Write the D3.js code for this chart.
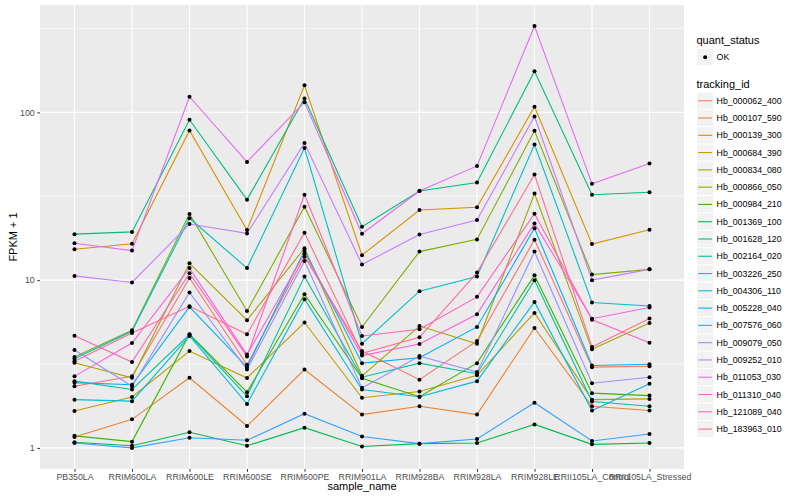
<!DOCTYPE html>
<html>
<head>
<meta charset="utf-8">
<script src="https://cdn.jsdelivr.net/npm/d3@7"></script>
<style>
  body { margin: 0; background: #fff; }
  svg { font-family: "Liberation Sans", Arial, sans-serif; }
</style>
</head>
<body>
<div id="chart"></div>
<script>
// x categories
const categories = ['PB350LA', 'RRIM600LA', 'RRIM600LE', 'RRIM600SE', 'RRIM600PE', 'RRIM901LA',
    'RRIM928BA', 'RRIM928LA', 'RRIM928LE', 'RRII105LA_Control', 'RRII105LA_Stressed'];

// FPKM + 1 per sample
const hb_000062_400 = [2.33, 2.67, 10.3, 3.13, 13.8, 3.78, 2.55, 4.34, 17.4, 3.03, 3.07];
const hb_000107_590 = [1.16, 1.48, 2.62, 1.35, 2.93, 1.58, 1.77, 1.58, 5.19, 1.77, 1.67];
const hb_000139_300 = [15.3, 16.5, 78.1, 19.9, 145, 14.1, 26.2, 27.2, 108, 16.4, 20.0];
const hb_000684_390 = [1.66, 2.01, 3.78, 2.61, 5.59, 1.99, 2.17, 2.71, 6.38, 1.94, 1.96];
const hb_000834_080 = [3.22, 2.62, 12.6, 5.77, 15.5, 2.69, 5.33, 4.18, 32.8, 3.87, 5.56];
const hb_000866_050 = [3.48, 5.03, 24.8, 6.55, 27.4, 5.26, 14.8, 17.5, 77.7, 10.8, 11.6];
const hb_000984_210 = [1.18, 1.09, 4.76, 2.15, 8.25, 2.60, 2.02, 3.20, 10.7, 2.12, 2.05];
const hb_001369_100 = [1.08, 1.03, 1.24, 1.03, 1.32, 1.02, 1.06, 1.07, 1.38, 1.05, 1.07];
const hb_001628_120 = [18.8, 19.4, 90.5, 30.2, 121, 20.8, 34.0, 38.2, 176, 32.3, 33.4];
const hb_002164_020 = [2.50, 2.23, 4.74, 2.03, 10.5, 2.64, 3.20, 2.77, 10.0, 1.89, 1.77];
const hb_003226_250 = [3.40, 4.96, 23.4, 11.8, 61.3, 4.18, 8.60, 10.5, 64.4, 7.36, 7.02];
const hb_004306_110 = [1.94, 1.90, 4.65, 1.83, 7.70, 2.23, 2.02, 2.50, 7.42, 1.67, 2.41];
const hb_005228_040 = [2.45, 2.38, 6.93, 3.03, 15.0, 3.20, 3.45, 5.26, 20.4, 3.10, 3.15];
const hb_007576_060 = [1.07, 1.00, 1.15, 1.11, 1.60, 1.17, 1.06, 1.13, 1.86, 1.10, 1.21];
const hb_009079_050 = [3.83, 2.33, 8.44, 2.93, 13.0, 2.28, 3.53, 2.83, 14.8, 2.43, 2.64];
const hb_009252_010 = [10.6, 9.69, 21.6, 19.0, 65.6, 12.4, 18.7, 22.8, 94.6, 10.0, 11.6];
const hb_011053_030 = [16.6, 15.0, 124, 50.7, 115, 18.9, 34.0, 48.0, 327, 37.5, 49.6];
const hb_011310_040 = [2.67, 4.22, 11.8, 3.60, 14.4, 3.55, 4.16, 6.26, 21.8, 5.89, 6.87];
const hb_121089_040 = [4.67, 3.25, 11.0, 3.51, 32.3, 4.65, 5.10, 7.95, 24.9, 5.81, 4.24];
const hb_183963_010 = [3.29, 4.84, 6.99, 4.76, 19.2, 3.66, 4.56, 11.1, 42.6, 3.99, 5.90];

const trackingIds = ['Hb_000062_400', 'Hb_000107_590', 'Hb_000139_300', 'Hb_000684_390', 'Hb_000834_080',
    'Hb_000866_050', 'Hb_000984_210', 'Hb_001369_100', 'Hb_001628_120', 'Hb_002164_020',
    'Hb_003226_250', 'Hb_004306_110', 'Hb_005228_040', 'Hb_007576_060', 'Hb_009079_050',
    'Hb_009252_010', 'Hb_011053_030', 'Hb_011310_040', 'Hb_121089_040', 'Hb_183963_010'];
const seriesValues = [hb_000062_400, hb_000107_590, hb_000139_300, hb_000684_390, hb_000834_080,
    hb_000866_050, hb_000984_210, hb_001369_100, hb_001628_120, hb_002164_020,
    hb_003226_250, hb_004306_110, hb_005228_040, hb_007576_060, hb_009079_050,
    hb_009252_010, hb_011053_030, hb_011310_040, hb_121089_040, hb_183963_010];

const yTicks = [1, 10, 100];
const yMinorTicks = [Math.sqrt(10), Math.sqrt(1000), Math.sqrt(100000)];

// ggplot hue palette, 20 levels
const palette = ['#F8766D', '#EA8331', '#D89000', '#C09B00', '#A3A500', '#7CAE00', '#39B600', '#00BB4E',
    '#00BF7D', '#00C1A3', '#00BFC4', '#00BAE0', '#00B0F6', '#35A2FF', '#9590FF', '#C77CFF',
    '#E76BF3', '#FA62DB', '#FF62BC', '#FF6C91'];

const series = trackingIds.map((id, i) => ({
    id: id,
    color: palette[i],
    points: categories.map((c, j) => ({ sample: c, value: seriesValues[i][j] }))
}));

const W = 800, H = 500;
const panel = { left: 40, right: 684, top: 5, bottom: 469 };

const svg = d3.select('#chart').append('svg')
    .attr('width', W)
    .attr('height', H);

svg.append('rect').attr('width', W).attr('height', H).attr('fill', '#fff');

// Scales
const xScale = d3.scalePoint()
    .domain(categories)
    .range([panel.left, panel.right])
    .padding(0.6);

const allValues = seriesValues.flat();
const logMin = Math.log10(d3.min(allValues));
const logMax = Math.log10(d3.max(allValues));
const pad = (logMax - logMin) * 0.05;
const yScale = d3.scaleLog()
    .domain([Math.pow(10, logMin - pad), Math.pow(10, logMax + pad)])
    .range([panel.bottom, panel.top]);

// Panel background + grid
svg.append('rect')
    .attr('x', panel.left)
    .attr('y', panel.top)
    .attr('width', panel.right - panel.left)
    .attr('height', panel.bottom - panel.top)
    .attr('fill', '#EBEBEB');

const grid = svg.append('g');
grid.selectAll('.minor')
    .data(yMinorTicks)
    .enter()
    .append('line')
    .attr('x1', panel.left).attr('x2', panel.right)
    .attr('y1', d => yScale(d)).attr('y2', d => yScale(d))
    .attr('stroke', '#fff')
    .attr('stroke-width', 0.55);
grid.selectAll('.major-y')
    .data(yTicks)
    .enter()
    .append('line')
    .attr('x1', panel.left).attr('x2', panel.right)
    .attr('y1', d => yScale(d)).attr('y2', d => yScale(d))
    .attr('stroke', '#fff')
    .attr('stroke-width', 1.1);
grid.selectAll('.major-x')
    .data(categories)
    .enter()
    .append('line')
    .attr('x1', d => xScale(d)).attr('x2', d => xScale(d))
    .attr('y1', panel.top).attr('y2', panel.bottom)
    .attr('stroke', '#fff')
    .attr('stroke-width', 1.1);

// Lines
const line = d3.line()
    .x(d => xScale(d.sample))
    .y(d => yScale(d.value));

svg.append('g')
    .selectAll('path')
    .data(series)
    .enter()
    .append('path')
    .attr('d', d => line(d.points))
    .attr('fill', 'none')
    .attr('stroke', d => d.color)
    .attr('stroke-width', 1.1);

// Points
svg.append('g')
    .selectAll('circle')
    .data(series.flatMap(s => s.points))
    .enter()
    .append('circle')
    .attr('cx', d => xScale(d.sample))
    .attr('cy', d => yScale(d.value))
    .attr('r', 2)
    .attr('fill', '#000');

// Axes
const xAxis = d3.axisBottom(xScale).tickSize(2.75).tickPadding(2.5);
const yAxis = d3.axisLeft(yScale).tickValues(yTicks).tickFormat(d3.format('d')).tickSize(2.75).tickPadding(2.5);

const gx = svg.append('g')
    .attr('transform', `translate(0,${panel.bottom})`)
    .call(xAxis);
const gy = svg.append('g')
    .attr('transform', `translate(${panel.left},0)`)
    .call(yAxis);

[gx, gy].forEach(g => {
    g.select('.domain').remove();
    g.selectAll('.tick line').attr('stroke', '#333333').attr('stroke-width', 1);
    g.selectAll('.tick text')
        .attr('fill', '#4D4D4D')
        .style('font-size', '8.8px')
        .style('font-family', '"Liberation Sans", Arial, sans-serif');
});

svg.append('text')
    .attr('x', (panel.left + panel.right) / 2)
    .attr('y', 490)
    .attr('text-anchor', 'middle')
    .style('font-size', '11px')
    .attr('fill', '#000')
    .text('sample_name');

svg.append('text')
    .attr('transform', `translate(17,${(panel.top + panel.bottom) / 2}) rotate(-90)`)
    .attr('text-anchor', 'middle')
    .style('font-size', '11px')
    .attr('fill', '#000')
    .text('FPKM + 1');

// Legends
const legend = svg.append('g');
const keyX = 696.5, keySize = 17.28;

legend.append('text')
    .attr('x', keyX)
    .attr('y', 44)
    .style('font-size', '11px')
    .text('quant_status');
legend.append('rect')
    .attr('x', keyX).attr('y', 48.5)
    .attr('width', keySize).attr('height', keySize)
    .attr('fill', '#F2F2F2')
    .attr('stroke', '#fff');
legend.append('circle')
    .attr('cx', keyX + keySize / 2).attr('cy', 48.5 + keySize / 2)
    .attr('r', 2).attr('fill', '#000');
legend.append('text')
    .attr('x', keyX + keySize + 2.8)
    .attr('y', 48.5 + keySize / 2)
    .attr('dy', '0.35em')
    .style('font-size', '8.8px')
    .text('OK');

legend.append('text')
    .attr('x', keyX)
    .attr('y', 88)
    .style('font-size', '11px')
    .text('tracking_id');

const keyTop = 92.1;
const keys = legend.selectAll('.key')
    .data(series)
    .enter()
    .append('g')
    .attr('transform', (d, i) => `translate(${keyX},${keyTop + i * keySize})`);
keys.append('rect')
    .attr('width', keySize).attr('height', keySize)
    .attr('fill', '#F2F2F2')
    .attr('stroke', '#fff');
keys.append('line')
    .attr('x1', 1.7).attr('x2', keySize - 1.7)
    .attr('y1', keySize / 2).attr('y2', keySize / 2)
    .attr('stroke', d => d.color)
    .attr('stroke-width', 1.1);
keys.append('text')
    .attr('x', keySize + 2.8)
    .attr('y', keySize / 2)
    .attr('dy', '0.35em')
    .style('font-size', '8.8px')
    .text(d => d.id);
</script>
</body>
</html>
